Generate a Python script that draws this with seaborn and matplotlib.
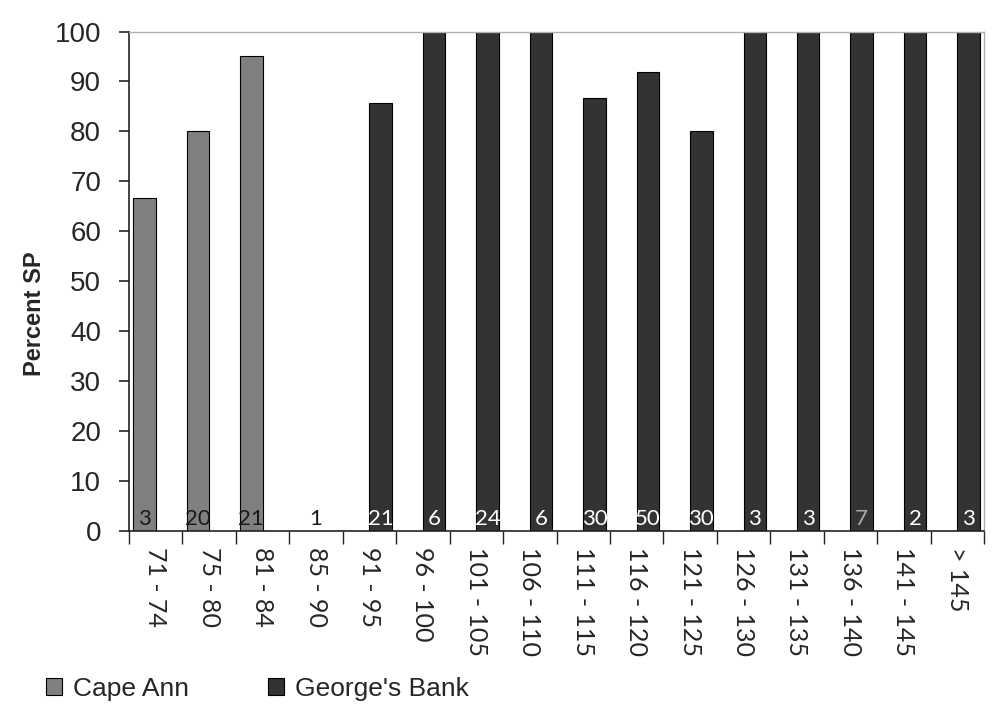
import numpy as np
import pandas as pd
import matplotlib
matplotlib.use("Agg")
import matplotlib.pyplot as plt
import seaborn as sns

# size classes and percent SP per region
size_classes = ["71 - 74", "75 - 80", "81 - 84", "85 - 90", "91 - 95", "96 - 100",
                "101 - 105", "106 - 110", "111 - 115", "116 - 120", "121 - 125",
                "126 - 130", "131 - 135", "136 - 140", "141 - 145", "> 145"]
cape_ann = [66.7, 80.0, 95.2, np.nan, np.nan, np.nan, np.nan, np.nan, np.nan,
            np.nan, np.nan, np.nan, np.nan, np.nan, np.nan, np.nan]
georges_bank = [np.nan, np.nan, np.nan, np.nan, 85.7, 100, 100, 100, 86.7,
                92.0, 80.0, 100, 100, 100, 100, 100]
# sample size shown at the base of each bar
sample_n = [3, 20, 21, 1, 21, 6, 24, 6, 30, 50, 30, 3, 3, 7, 2, 3]
regions = ["Cape Ann", "George's Bank"]

df = pd.DataFrame({"size": size_classes, "Cape Ann": cape_ann,
                   "George's Bank": georges_bank})
long_df = df.melt(id_vars="size", var_name="region", value_name="pct").dropna()

sns.set_style("white")
plt.rcParams["font.family"] = ["Liberation Sans", "DejaVu Sans"]
narrow = ["Lato", "DejaVu Sans"]

fig = plt.figure(figsize=(10, 7.18), dpi=100)
ax = fig.add_axes([0.129, 0.261, 0.855, 0.695])

sns.barplot(data=long_df, x="size", y="pct", hue="region", order=size_classes,
            hue_order=regions, palette=["#808080", "#333333"], width=0.84,
            dodge=True, edgecolor="black", linewidth=0.8,
            saturation=1, ax=ax)

# count labels inside bars
label_col = {"Cape Ann": "#1a1a1a", "George's Bank": "white"}
for cont, reg in zip(ax.containers, regions):
    for bar in cont:
        if np.isnan(bar.get_height()):
            continue
        xc = bar.get_x() + bar.get_width() / 2
        i = int(round(xc))
        col = "#aaaaaa" if sample_n[i] == 7 else label_col[reg]
        ax.text(xc, 1.2, str(sample_n[i]), ha="center", va="baseline",
                fontsize=16, color=col, family=narrow)
# class with no bar
for i, v in enumerate(size_classes):
    if np.isnan(cape_ann[i]) and np.isnan(georges_bank[i]):
        ax.text(i, 1.2, str(sample_n[i]), ha="center", va="baseline",
                fontsize=16, color="#1a1a1a", family=narrow)

ax.set_xlim(-0.5, len(size_classes) - 0.5)
ax.set_ylim(0, 100)
ax.set_yticks(range(0, 101, 10))
ax.tick_params(axis="y", labelsize=20, length=7, width=1.2, direction="out",
               left=True, color="#222222", pad=13)
ax.set_xticks(range(len(size_classes)))
ax.set_xticklabels(size_classes, rotation=270, fontsize=18, family=narrow)
ax.tick_params(axis="x", which="major", length=0, pad=12)
ax.set_xticks(np.arange(-0.5, len(size_classes)), minor=True)
ax.tick_params(axis="x", which="minor", length=9, width=1.0, direction="out",
               bottom=True, color="#222222")

for s in ["left", "bottom"]:
    ax.spines[s].set_color("#222222")
    ax.spines[s].set_linewidth(1.2)
for s in ["top", "right"]:
    ax.spines[s].set_color("#b0b0b0")
    ax.spines[s].set_linewidth(1.0)

ax.set_xlabel("")
ax.set_ylabel("Percent SP", fontsize=17, fontweight="bold")
ax.yaxis.set_label_coords(-0.097, 0.435)

ax.legend_.remove()
handles = [plt.Rectangle((0, 0), 1, 1, facecolor=c, edgecolor="black", linewidth=0.8)
           for c in ["#808080", "#333333"]]
fig.legend(handles, regions, loc="center left", bbox_to_anchor=(0.022, 0.041),
           ncol=2, frameon=False, fontsize=19, handlelength=0.62,
           handleheight=0.62, handletextpad=0.4, columnspacing=3.0)

fig.savefig("out.png", dpi=100)
